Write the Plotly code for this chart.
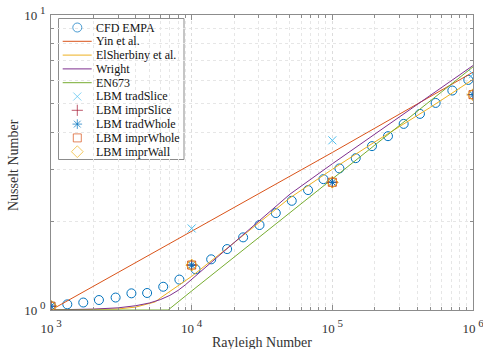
import plotly.graph_objects as go

# ---- data ----
cfd_ra = [1000, 1306, 1696, 2192, 2880, 3730, 4823, 6277, 8178, 10660, 13760, 17870,
          23220, 30360, 39630, 51460, 67210, 86470, 112300, 146700, 191400, 248700,
          321500, 419700, 542500, 712900, 926000]
cfd_nu = [1.032, 1.045, 1.060, 1.081, 1.102, 1.139, 1.142, 1.199, 1.268, 1.374, 1.485,
          1.609, 1.763, 1.941, 2.131, 2.345, 2.550, 2.777, 3.019, 3.271, 3.593, 3.884,
          4.274, 4.622, 5.035, 5.546, 6.025]

yin_ra = [1000, 10000, 100000, 1000000]
yin_nu = [1.0, 1.85, 3.42, 6.40]

els_ra = [1000, 2000, 3000, 4000, 5000, 5500, 6000, 7000, 8000, 10000, 20000, 50000,
          100000, 200000, 500000, 1000000]
els_nu = [1.0, 1.002, 1.008, 1.023, 1.048, 1.065, 1.099, 1.157, 1.21, 1.30, 1.69, 2.40,
          3.00, 3.71, 4.87, 6.05]

wri_ra = [1000, 2000, 3000, 4000, 5000, 6000, 7000, 8000, 9000, 10000, 20000, 30000,
          40000, 50000, 100000, 200000, 500000, 1000000]
wri_nu = [1.001, 1.007, 1.017, 1.034, 1.056, 1.085, 1.121, 1.165, 1.216, 1.27, 1.69,
          2.00, 2.25, 2.47, 3.13, 3.94, 5.35, 6.74]

en_ra = [1000, 6800, 10000, 100000, 1000000]
en_nu = [1.0, 1.0, 1.16, 2.78, 6.67]

lbm_ra = [1000, 10000, 100000, 1000000]
trad_slice = [1.03, 1.89, 3.76, 6.30]
impr_slice = [1.03, 1.42, 2.71, 5.37]
trad_whole = [1.03, 1.42, 2.71, 5.37]
impr_whole = [1.03, 1.42, 2.71, 5.37]
impr_wall = [1.03, 1.42, 2.71, 5.37]

SUP = "<sup><span style='font-size:11px'> {}</span></sup>"
x_ticks = [1e3, 1e4, 1e5, 1e6]
x_labels = ["10" + SUP.format(e) for e in ("3", "4", "5", "6")]
y_ticks = [1, 10]
y_labels = ["10" + SUP.format(e) for e in ("0", "1")]

BLUE = "#0072BD"; ORANGE = "#D95319"; YELLOW = "#EDB120"; PURPLE = "#7E2F8E"
GREEN = "#77AC30"; CYAN = "#4DBEEE"; DRED = "#A2142F"
FONT = "Liberation Serif"

W, H = 483, 349
L, R, T, B = 51, 10, 15, 39
PW, PH = W - L - R, H - T - B

def fx(px):
    return (px - L) / PW

def fy(py):
    return (H - B - py) / PH

fig = go.Figure()

legend_entries = []

fig.add_trace(go.Scatter(x=cfd_ra, y=cfd_nu, mode="markers", name="CFD EMPA", showlegend=False,
                         marker=dict(symbol="circle-open", size=9, color=BLUE,
                                     line=dict(width=1, color=BLUE))))
legend_entries.append(("CFD EMPA", "marker", dict(symbol="circle-open", size=9, color=BLUE)))

for name, xs, ys, c in [("Yin et al.", yin_ra, yin_nu, ORANGE),
                        ("ElSherbiny et al.", els_ra, els_nu, YELLOW),
                        ("Wright", wri_ra, wri_nu, PURPLE),
                        ("EN673", en_ra, en_nu, GREEN)]:
    fig.add_trace(go.Scatter(x=xs, y=ys, mode="lines", name=name, showlegend=False,
                             line=dict(color=c, width=1)))
    legend_entries.append((name, "line", dict(color=c)))

for name, ys, sym, c, sz in [("LBM tradSlice", trad_slice, "x-thin-open", CYAN, 8),
                             ("LBM imprSlice", impr_slice, "cross-thin-open", DRED, 8),
                             ("LBM tradWhole", trad_whole, "asterisk-open", BLUE, 8),
                             ("LBM imprWhole", impr_whole, "square-open", ORANGE, 8),
                             ("LBM imprWall", impr_wall, "diamond-open", YELLOW, 9)]:
    fig.add_trace(go.Scatter(x=lbm_ra, y=ys, mode="markers", name=name, showlegend=False,
                             marker=dict(symbol=sym, size=sz, color=c,
                                         line=dict(width=1, color=c))))
    legend_entries.append((name, "marker", dict(symbol=sym, size=sz, color=c)))

# ---- custom compact legend (box, symbols, texts) ----
LEG_L, LEG_T, LEG_R, LEG_B = 58.5, 18.5, 184, 159.5
ROW0, ROWSTEP = 27.5, 13.8
SYM_X, LINE_X0, LINE_X1, TXT_X = 77.3, 62.7, 91.7, 94

shapes = [dict(type="rect", xref="paper", yref="paper", x0=fx(LEG_L), x1=fx(LEG_R),
               y0=fy(LEG_B), y1=fy(LEG_T), line=dict(color="#8c8c8c", width=1),
               fillcolor="white", layer="between")]
annotations = []
mk_x, mk_y, mk_sym, mk_col, mk_size = [], [], [], [], []
for i, (name, kind, st) in enumerate(legend_entries):
    yy = ROW0 + i * ROWSTEP
    if kind == "line":
        shapes.append(dict(type="line", xref="paper", yref="paper", x0=fx(LINE_X0), x1=fx(LINE_X1),
                           y0=fy(yy), y1=fy(yy), line=dict(color=st["color"], width=1), layer="above"))
    else:
        mk_x.append(fx(SYM_X)); mk_y.append(fy(yy))
        mk_sym.append(st["symbol"]); mk_col.append(st["color"]); mk_size.append(st["size"])
    annotations.append(dict(xref="paper", yref="paper", x=fx(TXT_X), y=fy(yy), text=name,
                            showarrow=False, xanchor="left", yanchor="middle",
                            font=dict(family=FONT, size=12, color="#111")))

fig.add_trace(go.Scatter(x=mk_x, y=mk_y, mode="markers", xaxis="x2", yaxis="y2",
                         showlegend=False, hoverinfo="skip",
                         marker=dict(symbol=mk_sym, size=mk_size, color=mk_col,
                                     line=dict(width=1, color=mk_col))))

# axis titles
annotations.append(dict(xref="paper", yref="paper", x=fx(262), y=fy(342), text="Rayleigh Number",
                        showarrow=False, xanchor="center", yanchor="middle",
                        font=dict(family=FONT, size=14, color="#333")))
annotations.append(dict(xref="paper", yref="paper", x=fx(13), y=fy(165), text="Nusselt Number",
                        showarrow=False, xanchor="center", yanchor="middle", textangle=-90,
                        font=dict(family=FONT, size=14, color="#333")))

minor_x = [m * 10 ** e for e in (3, 4, 5) for m in range(2, 10)]
minor_y = [m for m in range(2, 10)]
axis_common = dict(showline=True, linecolor="#8c8c8c", linewidth=1, mirror="ticks",
                   ticks="inside", ticklen=5, tickcolor="#8c8c8c", automargin=False,
                   ticklabeloverflow="allow",
                   showgrid=True, gridcolor="#dcdcdc", griddash="dot", gridwidth=1,
                   zeroline=False, tickfont=dict(family=FONT, size=13, color="#333"))

fig.update_xaxes(type="log", range=[3, 6], tickvals=x_ticks, ticktext=x_labels,
                 ticklabelstandoff=6,
                 minor=dict(tickvals=minor_x, ticks="inside", ticklen=3, tickcolor="#8c8c8c",
                            showgrid=True, gridcolor="#e6e6e6", griddash="dot"),
                 **axis_common)
fig.update_yaxes(type="log", range=[0, 1], tickvals=y_ticks, ticktext=y_labels,
                 ticklabelstandoff=2,
                 minor=dict(tickvals=minor_y, ticks="inside", ticklen=3, tickcolor="#8c8c8c",
                            showgrid=True, gridcolor="#e6e6e6", griddash="dot"),
                 **axis_common)

fig.update_layout(width=W, height=H, margin=dict(l=L, r=R, t=T, b=B, autoexpand=False),
                  paper_bgcolor="white", plot_bgcolor="white",
                  font=dict(family=FONT, size=12, color="#222"),
                  showlegend=False, shapes=shapes, annotations=annotations,
                  xaxis2=dict(overlaying="x", range=[0, 1], visible=False, fixedrange=True),
                  yaxis2=dict(overlaying="y", range=[0, 1], visible=False, fixedrange=True))
fig.write_html("out.html")
